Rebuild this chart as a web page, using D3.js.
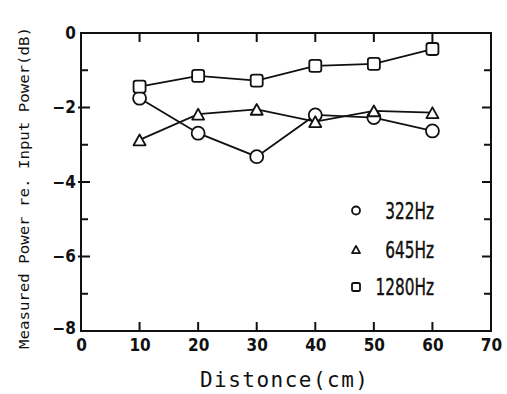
<!DOCTYPE html>
<html><head><meta charset="utf-8">
<script src="https://cdn.jsdelivr.net/npm/d3@7/dist/d3.min.js"></script>
<style>body{margin:0;background:#fff}svg{display:block}</style>
</head><body><svg id="c" width="507" height="394"></svg>
<script>
const distances = [10, 20, 30, 40, 50, 60];
const f322 = [-1.75, -2.69, -3.32, -2.20, -2.27, -2.63];
const f645 = [-2.87, -2.18, -2.05, -2.38, -2.09, -2.14];
const f1280 = [-1.44, -1.15, -1.28, -0.88, -0.83, -0.43];
const seriesNames = ["322Hz", "645Hz", "1280Hz"];
const seriesMarkers = ["circle", "triangle", "square"];
const xTicks = [0, 10, 20, 30, 40, 50, 60, 70];
const yTicks = [0, -2, -4, -6, -8];
const yMinor = [-1, -3, -5, -7];

const svg = d3.select("#c");
const L = 81, R = 491, T = 33, B = 331;
const x = d3.scaleLinear().domain([0, 70]).range([L, R]);
const y = d3.scaleLinear().domain([-8, 0]).range([B, T]);
const ink = "#111";
const numFont = "'DejaVu Sans Condensed','DejaVu Sans',sans-serif";

// frame
svg.append("rect").attr("x", L).attr("y", T).attr("width", R - L).attr("height", B - T)
  .attr("fill", "none").attr("stroke", ink).attr("stroke-width", 2);

// axes via d3 axis (inner ticks)
const gx = svg.append("g").attr("transform", `translate(0,${B})`)
  .call(d3.axisBottom(x).tickValues(xTicks).tickSize(0).tickPadding(8).tickFormat(d3.format("d")));
gx.select(".domain").remove();
gx.selectAll("text").attr("font-family", numFont).attr("font-weight", "bold")
  .attr("font-size", 17).attr("fill", ink);

const gy = svg.append("g").attr("transform", `translate(${L},0)`)
  .call(d3.axisLeft(y).tickValues(yTicks).tickSize(0).tickPadding(5)
    .tickFormat(d => d === 0 ? "0" : "\u2212" + Math.abs(d)));
gy.select(".domain").remove();
gy.selectAll("text").attr("font-family", numFont).attr("font-weight", "bold")
  .attr("font-size", 17).attr("fill", ink);
gy.selectAll(".tick text").attr("dy", d => d === -8 ? "0.15em" : "0.32em");

// tick marks
const inner = [10, 20, 30, 40, 50, 60];
const tk = svg.append("g").attr("stroke", ink).attr("stroke-width", 2);
inner.forEach(v => {
  tk.append("line").attr("x1", x(v)).attr("x2", x(v)).attr("y1", T).attr("y2", T + 9);
  tk.append("line").attr("x1", x(v)).attr("x2", x(v)).attr("y1", B).attr("y2", B - 9);
});
[-2, -4, -6].forEach(v => {
  tk.append("line").attr("x1", L - 3).attr("x2", L + 9).attr("y1", y(v)).attr("y2", y(v));
  tk.append("line").attr("x1", R).attr("x2", R - 9).attr("y1", y(v)).attr("y2", y(v));
});
yMinor.forEach(v => {
  tk.append("line").attr("x1", L).attr("x2", L + 7).attr("y1", y(v)).attr("y2", y(v));
  tk.append("line").attr("x1", R).attr("x2", R - 7).attr("y1", y(v)).attr("y2", y(v));
});

// series
const series = [f322, f645, f1280];
const line = d3.line().x((d, i) => x(distances[i])).y(d => y(d));
series.forEach(s => {
  svg.append("path").attr("d", line(s)).attr("fill", "none").attr("stroke", ink).attr("stroke-width", 1.8);
});
function marker(g, kind, cx, cy, sz) {
  if (kind === "circle") {
    g.append("circle").attr("cx", cx).attr("cy", cy).attr("r", sz / 2)
      .attr("fill", "#fff").attr("stroke", ink).attr("stroke-width", 1.8);
  } else if (kind === "square") {
    g.append("rect").attr("x", cx - sz / 2).attr("y", cy - sz / 2).attr("width", sz).attr("height", sz)
      .attr("rx", sz * 0.2).attr("fill", "#fff").attr("stroke", ink).attr("stroke-width", 1.8);
  } else {
    const h = sz * 0.9;
    g.append("path").attr("d", `M${cx},${cy - h / 2}L${cx + sz / 2},${cy + h / 2}L${cx - sz / 2},${cy + h / 2}Z`)
      .attr("fill", "#fff").attr("stroke", ink).attr("stroke-width", 1.8).attr("stroke-linejoin", "round");
  }
}
const mg = svg.append("g");
series.forEach((s, k) => {
  s.forEach((v, i) => marker(mg, seriesMarkers[k], x(distances[i]), y(v), seriesMarkers[k] === "circle" ? 13 : 12));
});

// legend
const lg = svg.append("g");
const ly = [210.5, 249.5, 287];
seriesNames.forEach((n, k) => {
  marker(lg, seriesMarkers[k], 356, ly[k], 8);
  lg.append("text").attr("x", 0).attr("y", 0).attr("dy", "0.36em").attr("text-anchor", "end")
    .attr("font-family", numFont).attr("font-size", 23).attr("fill", ink)
    .attr("stroke", ink).attr("stroke-width", 0.4)
    .attr("transform", `translate(434,${ly[k]}) scale(0.74,1.0)`)
    .text(n);
});

// axis titles
svg.append("text").attr("transform", `translate(29,${(T + B) / 2 + 6}) rotate(-90)`)
  .attr("text-anchor", "middle").attr("font-family", "'DejaVu Sans Mono',monospace")
  .attr("font-size", 14.5).attr("fill", ink).attr("textLength", 322).attr("lengthAdjust", "spacingAndGlyphs")
  .text("Measured Power re. Input Power(dB)");
svg.append("text").attr("x", 284).attr("y", 387).attr("text-anchor", "middle")
  .attr("font-family", "'DejaVu Sans Mono',monospace").attr("font-size", 21).attr("fill", ink)
  .attr("textLength", 168).attr("lengthAdjust", "spacing")
  .text("Distonce(cm)");
</script></body></html>
